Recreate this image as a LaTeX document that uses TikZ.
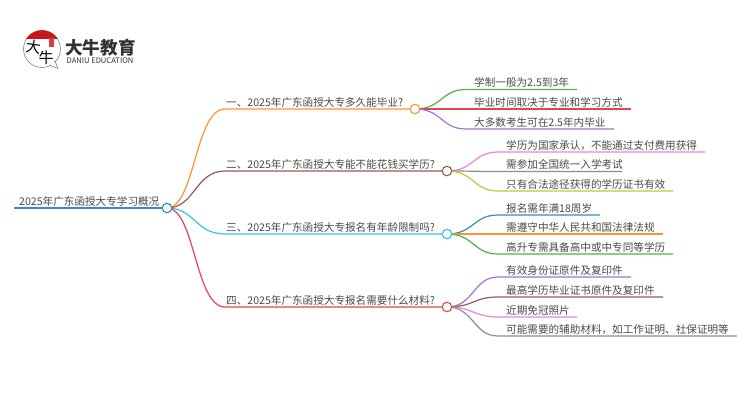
\documentclass[tikz,border=0pt]{standalone}
\usepackage{fontspec}
\setmainfont{Noto Sans CJK SC}
\definecolor{cblue}{HTML}{3A87C4}
\definecolor{corange}{HTML}{FF9233}
\definecolor{cgreen}{HTML}{4CB54A}
\definecolor{cred}{HTML}{E0474C}
\definecolor{cpurple}{HTML}{A572D2}
\definecolor{cbrown}{HTML}{8F5F55}
\definecolor{cpink}{HTML}{EE85D2}
\definecolor{cgrey}{HTML}{8E8E8E}
\definecolor{colive}{HTML}{C6C63C}
\definecolor{ccyan}{HTML}{2FC9DE}
\definecolor{ctext}{HTML}{4A4A4A}
\definecolor{clogo}{HTML}{333333}
\tikzset{
  x=1pt,y=-1pt,
  label text/.style={inner sep=0pt,anchor=base west,text=ctext,font=\fontsize{10.6}{12}\selectfont},
  hub/.style={circle,draw=#1,fill=white,line width=1.1pt,minimum size=9.5pt,inner sep=0pt},
  link/.style={draw=#1,line width=1.2pt},
}
\pgfdeclarelayer{links}
\pgfdeclarelayer{paper}
\pgfsetlayers{paper,links,main}
% \leaf{name}{parent}{curve end x}{y}{line end x}{colour}{text}
\newcommand{\leaf}[7]{%
  \coordinate (#1s) at (#3,#4);
  \coordinate (#1e) at (#5,#4);
  \node[label text] (#1) at ([xshift=8pt,yshift=3pt]#1s) {#7};
  \begin{pgfonlayer}{links}
  \draw[link=#6] (#2.center) .. controls ([xshift=27pt]#2.center) and ([xshift=-25pt]#1s) .. (#1s) -- (#1e);
  \end{pgfonlayer}
}
\newcommand{\branch}[7]{%
  \coordinate (#1e) at (#3,#4);
  \node[hub=#5] (#1) at (#3,#4) {};
  \coordinate (#1s) at (#7,#4);
  \node[label text] (#1t) at ([xshift=1pt,yshift=3pt]#1s) {#6};
  \begin{pgfonlayer}{links}
  \draw[link=#5] (#2.center) .. controls ([xshift=28pt]#2.center) and ([xshift=-30pt]#1s) .. (#1s) -- (#1e);
  \end{pgfonlayer}
}
\begin{document}
\begin{tikzpicture}
\useasboundingbox (0,0) rectangle (750,410);
\begin{pgfonlayer}{paper}
\fill[white] (0,0) rectangle (750,410);
\end{pgfonlayer}
% logo
\begin{scope}
  \fill[white,draw=black!55,line width=0.5pt] (42,49) circle (18.5);
  \fill[white,draw=black!55,line width=0.5pt] (50,65.5) -- (58,68.5) -- (55,61) -- cycle;
  \fill[white] (47,63) -- (55,62) -- (54,66) -- cycle;
  \begin{scope}
    \clip (42,49) circle (18.8);
    \fill[red!75!black!90] (20,28) rectangle (64,38.5);
  \end{scope}
  \fill[red!75!black!75] (48.5,37.5) rectangle (54,47);
  \node[inner sep=0pt,text=black,font=\fontsize{15}{15}\selectfont,rotate=-8] (logoa) at (34,47) {大};
  \node[inner sep=0pt,text=black,font=\fontsize{15}{15}\selectfont] (logob) at (46,58) {牛};
  \node[inner sep=0pt,text=clogo,font=\fontsize{17.6}{18}\bfseries\selectfont] (logoc) at (100.5,47.5) {大牛教育};
  \node[inner sep=0pt,text=clogo,font=\fontsize{7.6}{8}\selectfont] (logod) at (100,60.5) {DANIU EDUCATION};
\end{scope}
% root
\node[hub=cblue] (root) at (167,208) {};
\coordinate (rootl) at (14,208);
\node[label text] (roottext) at (19,205) {2025年广东函授大专学习概况};
\begin{pgfonlayer}{links}
\draw[link=cblue] (rootl) -- (root);
\end{pgfonlayer}
% branches
\branch{a}{root}{415}{109}{corange}{一、2025年广东函授大专多久能毕业?}{225}
\branch{b}{root}{447}{171}{cbrown}{二、2025年广东函授大专能不能花钱买学历?}{225}
\branch{c}{root}{447}{234}{ccyan}{三、2025年广东函授大专报名有年龄限制吗?}{225}
\branch{d}{root}{447}{307}{cred}{四、2025年广东函授大专报名需要什么材料?}{225}
% leaves
\leaf{a1}{a}{466}{89.5}{577}{cgreen}{学制一般为2.5到3年}
\leaf{a2}{a}{466}{109}{631}{cred}{毕业时间取决于专业和学习方式}
\leaf{a3}{a}{466}{129}{614}{cpurple}{大多数考生可在2.5年内毕业}
\leaf{b1}{b}{498}{152}{705}{cpink}{学历为国家承认，不能通过支付费用获得}
\leaf{b2}{b}{498}{171.5}{622}{cgrey}{需参加全国统一入学考试}
\leaf{b3}{b}{498}{191}{673}{colive}{只有合法途径获得的学历证书有效}
\leaf{c1}{c}{498}{215}{600}{cblue}{报名需年满18周岁}
\leaf{c2}{c}{498}{234}{663}{corange}{需遵守中华人民共和国法律法规}
\leaf{c3}{c}{498}{254}{673}{cgreen}{高升专需具备高中或中专同等学历}
\leaf{d1}{d}{498}{277}{631}{cpurple}{有效身份证原件及复印件}
\leaf{d2}{d}{498}{297}{663}{cbrown}{最高学历毕业证书原件及复印件}
\leaf{d3}{d}{498}{317}{577}{cpink}{近期免冠照片}
\leaf{d4}{d}{498}{336}{737}{cgrey}{可能需要的辅助材料，如工作证明、社保证明等}
\end{tikzpicture}
\end{document}
